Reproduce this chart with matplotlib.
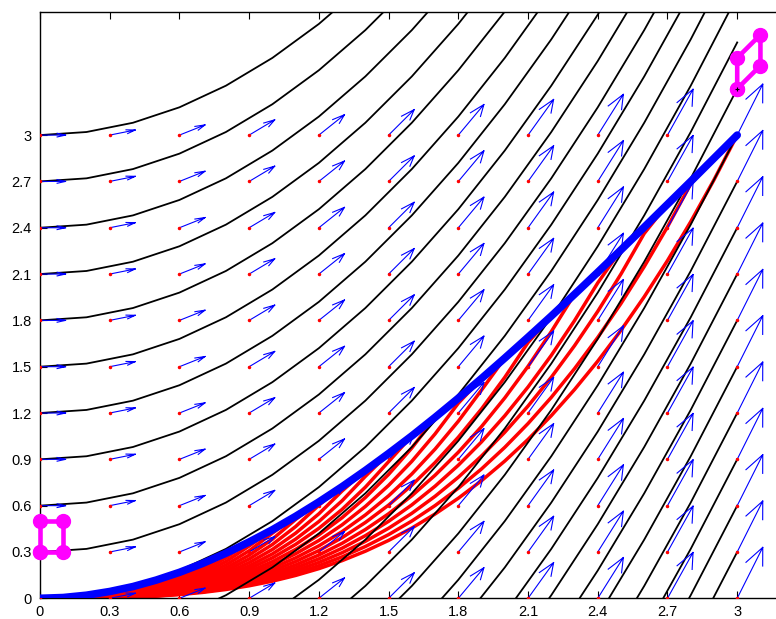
import numpy as np
import matplotlib
matplotlib.use('Agg')
import matplotlib.pyplot as plt

# x samples of the black flow lines (0.2 steps, like the kinks in the original)
XS = [0.0, 0.2, 0.4, 0.6, 0.8, 1.0, 1.2, 1.4, 1.6, 1.8, 2.0, 2.2, 2.4, 2.6, 2.8, 3.0]
# flow line of the drift field through the origin
FLOW_BASE = [0.0, 0.02, 0.08, 0.18, 0.32, 0.5, 0.72, 0.98, 1.28, 1.62, 2.0, 2.42, 2.88, 3.38, 3.92, 4.5]
# vertical shift of every black flow line
FLOW_OFFSETS = [-4.2, -3.9, -3.6, -3.3, -3.0, -2.7, -2.4, -2.1, -1.8, -1.5, -1.2, -0.9, -0.6,
                -0.3, 0.0, 0.3, 0.6, 0.9, 1.2, 1.5, 1.8, 2.1, 2.4, 2.7, 3.0]

# finer x samples for the blue and red paths
XP = [0.0, 0.1, 0.2, 0.3, 0.4, 0.5, 0.6, 0.7, 0.8, 0.9, 1.0, 1.1, 1.2, 1.3, 1.4, 1.5,
      1.6, 1.7, 1.8, 1.9, 2.0, 2.1, 2.2, 2.3, 2.4, 2.5, 2.6, 2.7, 2.8, 2.9, 3.0]
# optimal path (blue)
BLUE_Y = [0.0, 0.005, 0.020, 0.044, 0.076, 0.118, 0.168, 0.226, 0.292, 0.365, 0.444, 0.531,
          0.624, 0.723, 0.828, 0.938, 1.052, 1.172, 1.296, 1.424, 1.556, 1.691, 1.828, 1.969,
          2.112, 2.257, 2.404, 2.552, 2.700, 2.850, 3.0]
# lowest red path; the others are scaled copies that end on the blue one
RED_BASE = [0.0, 0.0001, 0.0009, 0.003, 0.0071, 0.0139, 0.024, 0.0381, 0.0569, 0.081, 0.111,
            0.148, 0.192, 0.244, 0.305, 0.375, 0.455, 0.546, 0.648, 0.762, 0.889, 1.029, 1.183,
            1.352, 1.536, 1.736, 1.953, 2.187, 2.439, 2.710, 3.0]
RED_SCALE = [1.0, 1.1, 1.21, 1.33, 1.46, 1.61, 1.77, 1.95, 2.14, 2.36, 2.59, 2.85, 3.14, 3.45,
             3.80, 4.18, 4.59, 5.05, 5.56, 6.12, 6.73, 7.40, 8.14, 8.95]

# quiver grid and arrow size
GRID = [0.0, 0.3, 0.6, 0.9, 1.2, 1.5, 1.8, 2.1, 2.4, 2.7, 3.0]
TICK_LABELS = ['0', '0.3', '0.6', '0.9', '1.2', '1.5', '1.8', '2.1', '2.4', '2.7', '3']
ARROW_DX = 0.11

# box and its image under the flow
BOX_X = [0.0, 0.1, 0.1, 0.0, 0.0]
BOX_Y = [0.3, 0.3, 0.5, 0.5, 0.3]
IMG_X = [3.0, 3.1, 3.1, 3.0, 3.0]
IMG_Y = [3.3, 3.45, 3.65, 3.5, 3.3]

plt.rcParams['font.family'] = ['Liberation Sans', 'DejaVu Sans']

fig = plt.figure(figsize=(7.76, 6.19), dpi=100)
ax = fig.add_axes([40 / 776, 20.7 / 619, 3.2 * 232.4 / 776, 3.8 * 154.4 / 619])

xp = np.array(XP)
blue = np.array(BLUE_Y)
base = np.array(RED_BASE)

# red paths, each runs along the blue one after meeting it
for s in RED_SCALE:
    ax.plot(xp, np.minimum(s * base, blue), color='red', lw=2.5, zorder=2)

# black flow lines
for c in FLOW_OFFSETS:
    ax.plot(XS, np.array(FLOW_BASE) + c, color='black', lw=1.3, zorder=3)

# quiver with matlab style open arrow heads
gx, gy = np.meshgrid(GRID, GRID)
gx = gx.ravel()
gy = gy.ravel()
u = np.full_like(gx, ARROW_DX)
v = ARROW_DX * gx
alpha, beta = 0.33, 0.33
segs_x, segs_y = [], []
for x0, y0, du, dv in zip(gx, gy, u, v):
    segs_x += [x0, x0 + du, np.nan]
    segs_y += [y0, y0 + dv, np.nan]
    segs_x += [x0 + du - alpha * (du + beta * dv), x0 + du, x0 + du - alpha * (du - beta * dv), np.nan]
    segs_y += [y0 + dv - alpha * (dv - beta * du), y0 + dv, y0 + dv - alpha * (dv + beta * du), np.nan]
ax.plot(segs_x, segs_y, color='blue', lw=0.8, zorder=4)
ax.plot(gx, gy, '.', color='red', ms=3, zorder=5)

# optimal path
ax.plot(xp, blue, color='blue', lw=5.5, zorder=6, solid_capstyle='round')

# box and image
ax.plot(BOX_X, BOX_Y, '-o', color='magenta', lw=3.3, ms=10, zorder=7, clip_on=False)
ax.plot(IMG_X, IMG_Y, '-o', color='magenta', lw=3.3, ms=10, zorder=7, clip_on=False)
ax.plot(IMG_X[0], IMG_Y[0], '+', color='black', ms=3, mew=0.8, zorder=8)

ax.set_xlim(0, 3.2)
ax.set_ylim(0, 3.8)
ax.set_xticks(GRID)
ax.set_xticklabels(TICK_LABELS)
ax.set_yticks(GRID)
ax.set_yticklabels(TICK_LABELS)
ax.tick_params(direction='in', top=True, right=True, length=5, width=0.8, labelsize=10.5)
ax.tick_params(axis='x', pad=5)
ax.tick_params(axis='y', pad=6)
for sp in ax.spines.values():
    sp.set_linewidth(1.0)

fig.savefig('out.png', dpi=100)
